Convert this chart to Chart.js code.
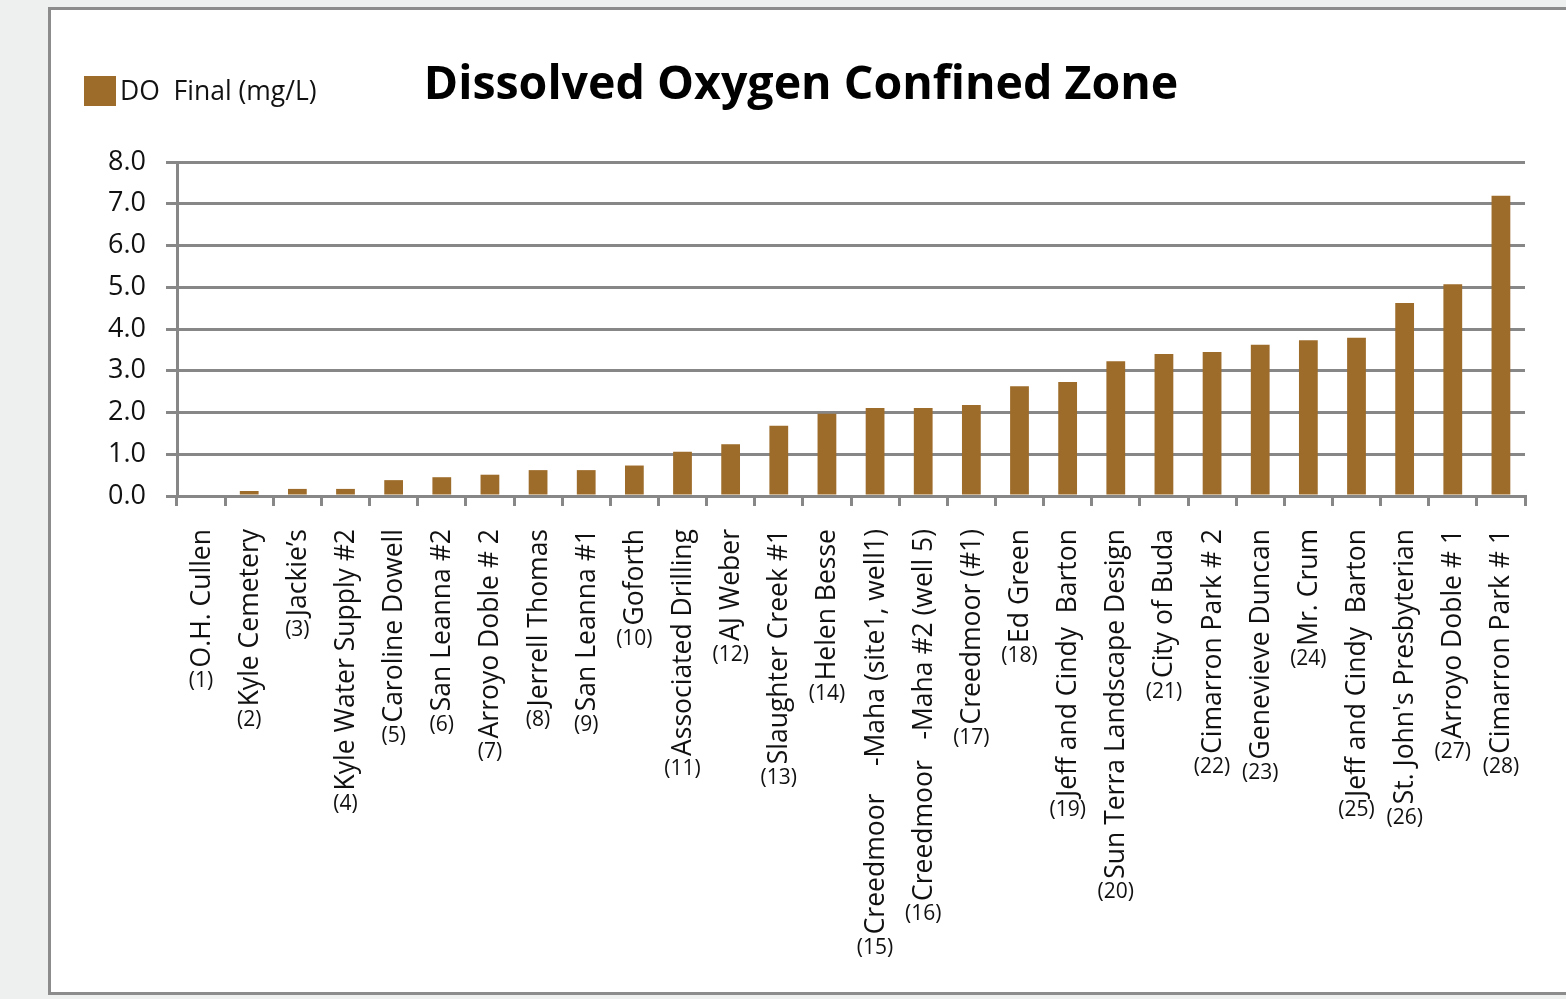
<!DOCTYPE html>
<html>
<head>
<meta charset="utf-8">
<script src="https://cdn.jsdelivr.net/npm/chart.js@4.4.1/dist/chart.umd.min.js"></script>
<style>
    body { margin: 0; width: 1566px; height: 999px; background: #eef0ef; overflow: hidden; font-family: "Open Sans", sans-serif; }
    #panel { position: absolute; left: 48px; top: 7px; width: 1540px; height: 988px; box-sizing: border-box; border: 3px solid #8c8c8c; background: #fff; }
    #chartBox { position: absolute; left: 51px; top: 10px; width: 1515px; height: 982px; }
    #title { position: absolute; left: 0; width: 1602px; top: 49px; text-align: center; font-size: 46.5px; font-weight: 700; color: #000; white-space: nowrap; }
    #legend { position: absolute; left: 84px; top: 72px; font-size: 26.5px; color: #111; white-space: pre; }
    #legend .swatch { display: inline-block; width: 32px; height: 30px; vertical-align: -6px; margin-right: 4px; }
</style>
</head>
<body>
<div id="panel"></div>
<div id="chartBox"><canvas id="chart"></canvas></div>
<div id="title">Dissolved Oxygen Confined Zone</div>
<div id="legend"><span class="swatch"></span>DO  Final (mg/L)</div>
<script>
const siteNames = [
    'O.H. Cullen', 'Kyle Cemetery', 'Jackie\u2019s', 'Kyle Water Supply #2', 'Caroline Dowell',
    'San Leanna #2', 'Arroyo Doble # 2', 'Jerrell Thomas', 'San Leanna #1', 'Goforth',
    'Associated Drilling', 'AJ Weber', 'Slaughter Creek #1', 'Helen Besse',
    'Creedmoor    -Maha (site1, well1)', 'Creedmoor   -Maha #2 (well 5)', 'Creedmoor (#1)', 'Ed Green',
    'Jeff and Cindy  Barton', 'Sun Terra Landscape Design', 'City of Buda', 'Cimarron Park # 2',
    'Genevieve Duncan', 'Mr. Crum', 'Jeff and Cindy  Barton', 'St. John\'s Presbyterian',
    'Arroyo Doble # 1', 'Cimarron Park # 1'
];
const siteNumbers = siteNames.map((_, i) => '(' + (i + 1) + ')');
const doFinal = [
    0, 0.12, 0.17, 0.17, 0.38, 0.45, 0.51, 0.62, 0.62, 0.73,
    1.06, 1.24, 1.68, 1.97, 2.11, 2.11, 2.18, 2.63, 2.73, 3.23,
    3.40, 3.45, 3.62, 3.73, 3.79, 4.62, 5.07, 7.19
];
const yTicks = [0, 1, 2, 3, 4, 5, 6, 7, 8];

const barColor = '#9e6c2a';
const gridColor = '#878787';
document.querySelector('#legend .swatch').style.background = barColor;

// names rotated, site number underneath in a smaller horizontal font
const siteLabels = {
    id: 'siteLabels',
    afterDraw(chart) {
        const ctx = chart.ctx;
        const xs = chart.scales.x;
        const top = xs.top + 33;
        ctx.save();
        ctx.fillStyle = '#111';
        siteNames.forEach((name, i) => {
            const x = xs.getPixelForValue(i);
            ctx.save();
            ctx.translate(x + 1, top);
            ctx.rotate(-Math.PI / 2);
            ctx.font = '26.5px "Open Sans"';
            ctx.textAlign = 'right';
            ctx.textBaseline = 'middle';
            ctx.fillText(name, 0, 0);
            const w = ctx.measureText(name).width;
            ctx.restore();
            ctx.font = '21px "Open Sans"';
            ctx.textAlign = 'center';
            ctx.textBaseline = 'top';
            ctx.fillText(siteNumbers[i], x, top + w + 3);
        });
        ctx.restore();
    }
};

document.fonts.load('25px "Open Sans"').then(() => {
    new Chart(document.getElementById('chart'), {
        type: 'bar',
        data: {
            labels: siteNames,
            datasets: [{
                label: 'DO Final (mg/L)',
                data: doFinal,
                backgroundColor: barColor,
                barPercentage: 0.39,
                categoryPercentage: 1.0
            }]
        },
        options: {
            responsive: true,
            maintainAspectRatio: false,
            animation: false,
            layout: { padding: { top: 152, left: 0, right: 41, bottom: 0 } },
            plugins: {
                legend: { display: false },
                title: { display: false },
                tooltip: { enabled: false }
            },
            scales: {
                x: {
                    afterFit: scale => { scale.height = 496; },
                    grid: {
                        offset: true,
                        drawOnChartArea: false,
                        drawTicks: true,
                        tickLength: 10,
                        color: gridColor,
                        lineWidth: 3
                    },
                    border: { display: true, color: gridColor, width: 3 },
                    ticks: { display: false }
                },
                y: {
                    min: 0,
                    max: 8,
                    afterFit: scale => { scale.width = 126; },
                    afterBuildTicks: scale => { scale.ticks = yTicks.map(v => ({ value: v })); },
                    grid: {
                        color: gridColor,
                        lineWidth: 3,
                        tickLength: 11
                    },
                    border: { display: true, color: gridColor, width: 3 },
                    ticks: {
                        padding: 20,
                        color: '#111',
                        font: { family: 'Open Sans', size: 27 },
                        callback: v => Number(v).toFixed(1)
                    }
                }
            }
        },
        plugins: [siteLabels]
    });
});
</script>
</body>
</html>
